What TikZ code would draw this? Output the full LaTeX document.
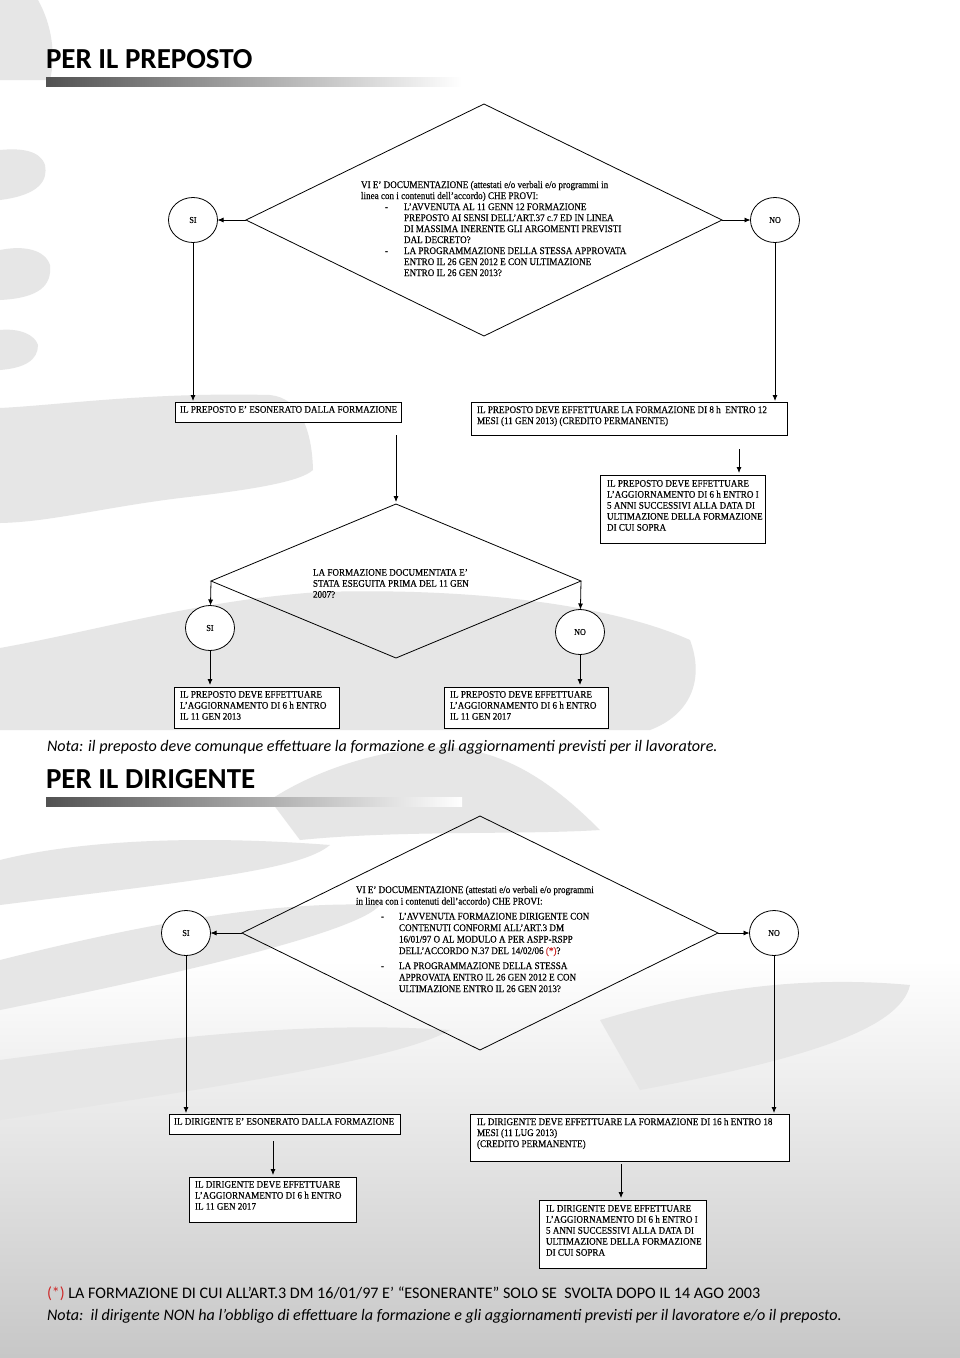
\documentclass[tikz,border=0pt]{standalone}
\usepackage{fontspec}
\setmainfont{Liberation Serif}
\newfontfamily\carlito{Carlito}
\newfontfamily\dfont{Liberation Serif}[FakeStretch=0.9, FakeBold=0.25]
\usetikzlibrary{shapes.geometric,arrows.meta,calc}
\definecolor{fnred}{RGB}{205,40,40}
\definecolor{brush}{RGB}{230,230,230}
\newcommand\itm[1]{\makebox[43pt][l]{\hspace{24pt}#1}}
\newcommand\itmb[1]{\makebox[43pt][l]{\hspace{25pt}#1}}
\begin{document}
\begin{tikzpicture}[x=1pt,y=-1pt,
  every node/.style={inner sep=0pt, outer sep=0pt},
  arr/.style={line width=0.8pt, -{Latex[length=6pt,width=5pt]}},
  box/.style={draw, line width=0.7pt, fill=white, anchor=north west},
  btext/.style={anchor=north west, align=left, font=\dfont\fontsize{10.1}{11}\selectfont},
  yesno/.style={ellipse, draw, line width=0.8pt, fill=white, minimum width=49pt, minimum height=45pt, font=\dfont\fontsize{9}{10}\selectfont},
  dia/.style={diamond, draw, line width=0.8pt},
  titlestyle/.style={anchor=base west, font=\carlito\bfseries\fontsize{29}{34}\selectfont},
  notestyle/.style={anchor=base west, font=\carlito\itshape\fontsize{16.1}{19}\selectfont},
  fnstyle/.style={anchor=base west, font=\carlito\fontsize{16.1}{19}\selectfont},
]
\useasboundingbox (0,0) rectangle (960,1358);
\fill[white] (0,0) rectangle (960,1358);
\shade[top color=white, bottom color=black!22] (0,960) rectangle (960,1358);

% background brush strokes
\fill[brush] (0,0) -- (38,0) .. controls (52,25) and (56,55) .. (50,80) -- (0,80) -- cycle;
\fill[brush] (0,150) .. controls (20,148) and (40,150) .. (45,165) .. controls (48,180) and (40,195) .. (0,200) -- cycle;
\fill[brush] (0,250) .. controls (25,245) and (45,250) .. (50,265) .. controls (52,285) and (40,298) .. (0,300) -- cycle;
\fill[brush] (0,330) .. controls (20,328) and (35,335) .. (38,345) .. controls (38,360) and (25,368) .. (0,370) -- cycle;
\fill[brush] (0,408) .. controls (60,405) and (150,392) .. (270,395) .. controls (300,398) and (312,430) .. (313,470)
  .. controls (300,482) and (250,490) .. (180,498) .. controls (100,508) and (50,522) .. (0,523) -- cycle;
\fill[brush] (0,648) .. controls (100,630) and (200,600) .. (320,592) .. controls (450,588) and (600,600) .. (690,640)
  .. controls (705,680) and (690,715) .. (650,730) -- (0,730) -- cycle;
\fill[brush] (270,800) .. controls (330,760) and (420,740) .. (470,750) .. controls (520,760) and (560,790) .. (600,830)
  .. controls (520,835) and (400,830) .. (300,840) -- cycle;
\fill[brush] (0,860) .. controls (80,840) and (200,835) .. (330,845) .. controls (300,870) and (200,880) .. (0,905) -- cycle;
\fill[brush] (0,960) .. controls (120,930) and (260,900) .. (380,905) .. controls (360,930) and (200,970) .. (0,1010) -- cycle;
\fill[brush] (600,1020) .. controls (700,990) and (800,975) .. (910,985) .. controls (900,1030) and (800,1060) .. (640,1090) -- cycle;
\fill[brush] (0,1060) .. controls (150,1040) and (300,1020) .. (450,1030) .. controls (400,1060) and (200,1090) .. (0,1120) -- cycle;

% ===== PER IL PREPOSTO =====
\node[titlestyle] (t1) at (46,68) {PER IL PREPOSTO};
\shade[left color=black!68, right color=white] (46,77) rectangle (462,86);

\node[dia, minimum width=476pt, minimum height=232pt] (d1) at (484,220) {};
\node[btext] (d1t) at (361,181) {VI E’ DOCUMENTAZIONE (attestati e/o verbali e/o programmi in\\
linea con i contenuti dell’accordo) CHE PROVI:\\
\itm{-}L’AVVENUTA AL 11 GENN 12 FORMAZIONE\\
\itm{}PREPOSTO AI SENSI DELL’ART.37 c.7 ED IN LINEA\\
\itm{}DI MASSIMA INERENTE GLI ARGOMENTI PREVISTI\\
\itm{}DAL DECRETO?\\
\itm{-}LA PROGRAMMAZIONE DELLA STESSA APPROVATA\\
\itm{}ENTRO IL 26 GEN 2012 E CON ULTIMAZIONE\\
\itm{}ENTRO IL 26 GEN 2013?};

\node[yesno] (si1) at (193,220) {SI};
\node[yesno] (no1) at (775,220) {NO};
\draw[arr] (d1.west) -- (si1);
\draw[arr] (d1.east) -- (no1);

\node[box, minimum width=226pt, minimum height=20pt] (b1) at (175,402) {};
\node[btext] at ([xshift=5pt,yshift=-4pt]b1.north west) {IL PREPOSTO E’ ESONERATO DALLA FORMAZIONE};
\node[box, minimum width=316pt, minimum height=33pt] (b2) at (471,402) {};
\node[btext] at ([xshift=6pt,yshift=-4pt]b2.north west) {IL PREPOSTO DEVE EFFETTUARE LA FORMAZIONE DI 8 h\ \ ENTRO 12\\
MESI (11 GEN 2013) (CREDITO PERMANENTE)};
\draw[arr, shorten >=1pt] (si1) -- (si1 |- b1.north);
\draw[arr, shorten >=1pt] (no1) -- (no1 |- b2.north);

\node[box, minimum width=165pt, minimum height=68pt] (b3) at (600,475) {};
\node[btext] at ([xshift=7pt,yshift=-5pt]b3.north west) {IL PREPOSTO DEVE EFFETTUARE\\
L’AGGIORNAMENTO DI 6 h ENTRO I\\
5 ANNI SUCCESSIVI ALLA DATA DI\\
ULTIMAZIONE DELLA FORMAZIONE\\
DI CUI SOPRA};
\coordinate (b3in) at (739,475);
\draw[arr, shorten <=14pt, shorten >=2pt] (b2.south -| b3in) -- (b3in);

\node[dia, minimum width=370pt, minimum height=154pt] (d2) at (396,581) {};
\node[btext] at (313,569) {LA FORMAZIONE DOCUMENTATA E’\\
STATA ESEGUITA PRIMA DEL 11 GEN\\
2007?};
\draw[arr, shorten <=13pt, shorten >=2pt] (b1.south -| d2.north) -- (d2.north);

\node[yesno] (si2) at (210,628) {SI};
\node[yesno] (no2) at (580,632) {NO};
\draw[arr] (d2.west) -- (si2);
\draw[arr] (d2.east) -- (no2);

\node[box, minimum width=165pt, minimum height=41pt] (b4) at (174,687) {};
\node[btext] at ([xshift=6pt,yshift=-4pt]b4.north west) {IL PREPOSTO DEVE EFFETTUARE\\
L’AGGIORNAMENTO DI 6 h ENTRO\\
IL 11 GEN 2013};
\node[box, minimum width=164pt, minimum height=41pt] (b5) at (444,687) {};
\node[btext] at ([xshift=6pt,yshift=-4pt]b5.north west) {IL PREPOSTO DEVE EFFETTUARE\\
L’AGGIORNAMENTO DI 6 h ENTRO\\
IL 11 GEN 2017};
\draw[arr, shorten >=2pt] (si2) -- (si2 |- b4.north);
\draw[arr, shorten >=2pt] (no2) -- (no2 |- b5.north);

\node[notestyle] (n1) at (47,751) {Nota: il preposto deve comunque effettuare la formazione e gli aggiornamenti previsti per il lavoratore.};

% ===== PER IL DIRIGENTE =====
\node[titlestyle] (t2) at (46,788) {PER IL DIRIGENTE};
\shade[left color=black!68, right color=white] (46,797) rectangle (462,806);

\node[dia, minimum width=476pt, minimum height=234pt] (d3) at (480,933) {};
\node[btext, font=\dfont\fontsize{10.1}{11.5}\selectfont] at (356,886) {VI E’ DOCUMENTAZIONE (attestati e/o verbali e/o programmi\\
in linea con i contenuti dell’accordo) CHE PROVI:\\[3.5pt]
\itmb{-}L’AVVENUTA FORMAZIONE DIRIGENTE CON\\
\itmb{}CONTENUTI CONFORMI ALL’ART.3 DM\\
\itmb{}16/01/97 O AL MODULO A PER ASPP-RSPP\\
\itmb{}DELL’ACCORDO N.37 DEL 14/02/06 {\color{fnred}(*)}?\\[3.5pt]
\itmb{-}LA PROGRAMMAZIONE DELLA STESSA\\
\itmb{}APPROVATA ENTRO IL 26 GEN 2012 E CON\\
\itmb{}ULTIMAZIONE ENTRO IL 26 GEN 2013?};

\node[yesno] (si3) at (186,933) {SI};
\node[yesno] (no3) at (774,933) {NO};
\draw[arr] (d3.west) -- (si3);
\draw[arr] (d3.east) -- (no3);

\node[box, minimum width=231pt, minimum height=20pt] (b6) at (169,1114) {};
\node[btext] at ([xshift=5pt,yshift=-4pt]b6.north west) {IL DIRIGENTE E’ ESONERATO DALLA FORMAZIONE};
\node[box, minimum width=319pt, minimum height=47pt] (b7) at (470,1114) {};
\node[btext] at ([xshift=7pt,yshift=-4pt]b7.north west) {IL DIRIGENTE DEVE EFFETTUARE LA FORMAZIONE DI 16 h ENTRO 18\\
MESI (11 LUG 2013)\\
(CREDITO PERMANENTE)};
\draw[arr, shorten >=1pt] (si3) -- (si3 |- b6.north);
\draw[arr, shorten >=1pt] (no3) -- (no3 |- b7.north);

\node[box, minimum width=167pt, minimum height=45pt] (b8) at (189,1177) {};
\node[btext] at ([xshift=6pt,yshift=-4pt]b8.north west) {IL DIRIGENTE DEVE EFFETTUARE\\
L’AGGIORNAMENTO DI 6 h ENTRO\\
IL 11 GEN 2017};
\coordinate (b8in) at (273,1177);
\draw[arr, shorten <=7pt, shorten >=2pt] (b6.south -| b8in) -- (b8in);

\node[box, minimum width=167pt, minimum height=68pt] (b9) at (539,1200) {};
\node[btext] at ([xshift=7pt,yshift=-5pt]b9.north west) {IL DIRIGENTE DEVE EFFETTUARE\\
L’AGGIORNAMENTO DI 6 h ENTRO I\\
5 ANNI SUCCESSIVI ALLA DATA DI\\
ULTIMAZIONE DELLA FORMAZIONE\\
DI CUI SOPRA};
\coordinate (b9in) at (621,1200);
\draw[arr, shorten <=3pt, shorten >=2pt] (b7.south -| b9in) -- (b9in);

\node[fnstyle] (fn) at (47,1298) {{\color{fnred}(*)} LA FORMAZIONE DI CUI ALL’ART.3 DM 16/01/97 E’ “ESONERANTE” SOLO SE\ \ SVOLTA DOPO IL 14 AGO 2003};
\node[notestyle] (n2) at (47,1320) {Nota:\ \ il dirigente NON ha l’obbligo di effettuare la formazione e gli aggiornamenti previsti per il lavoratore e/o il preposto.};
\end{tikzpicture}
\end{document}
